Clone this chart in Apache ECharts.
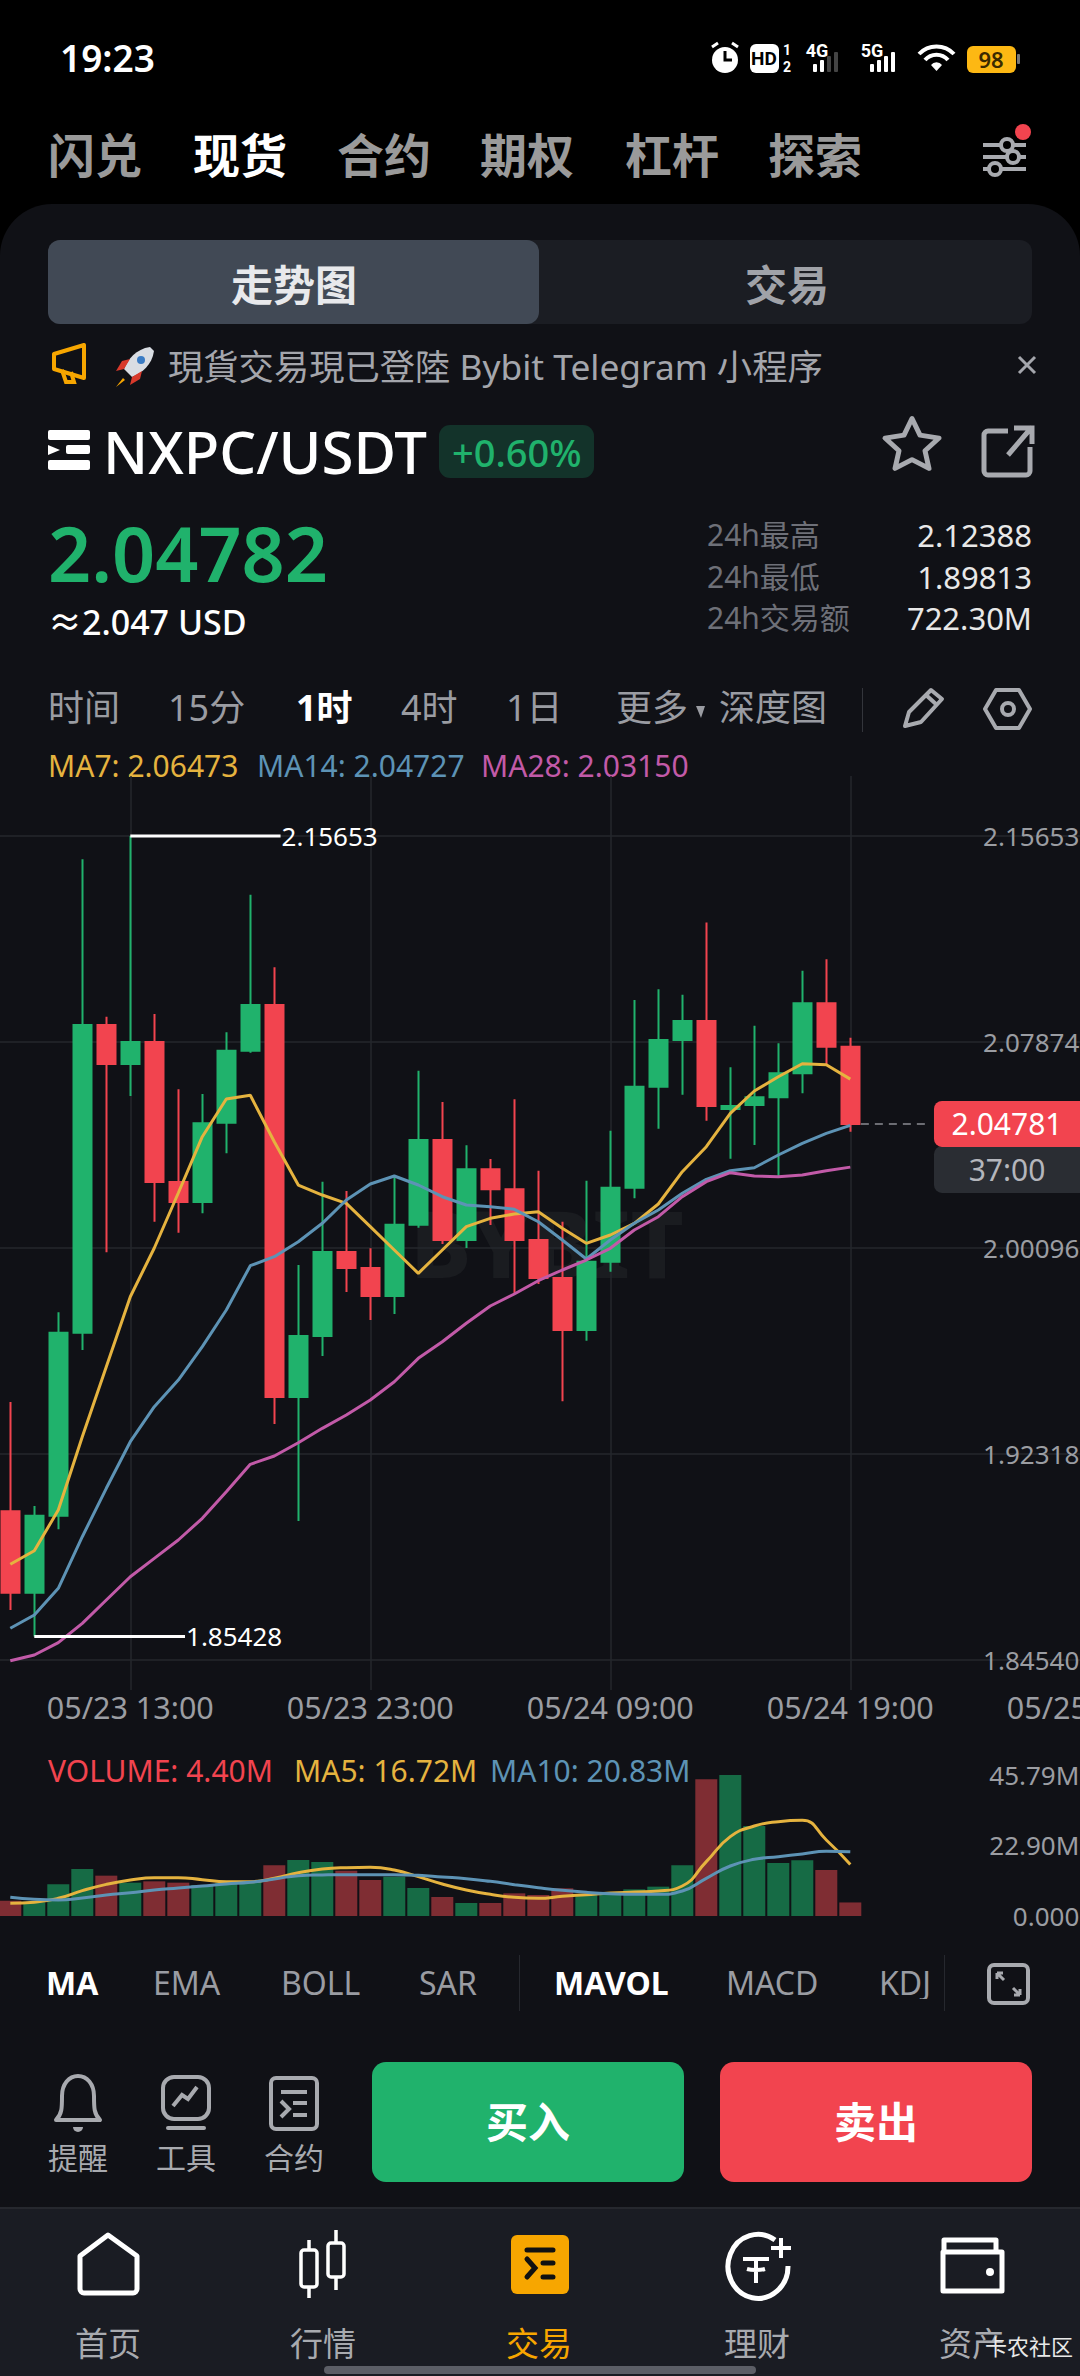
<!DOCTYPE html>
<html><head><meta charset="utf-8">
<script src="https://cdn.jsdelivr.net/npm/echarts@6/dist/echarts.min.js"></script>
<style>
html,body{margin:0;padding:0;background:#000;width:1080px;height:2376px;overflow:hidden}
body{position:relative;font-family:"Noto Sans","Noto Sans CJK SC",sans-serif}
.b{position:absolute}
.t{position:absolute;line-height:1;white-space:nowrap;transform:translateY(-50%)}
svg.i{position:absolute;overflow:visible}
#chart{position:absolute;left:0;top:0;width:1080px;height:2376px}
</style></head><body>
<div class="b" style="left:0;top:204px;width:1080px;height:2172px;background:#101116;border-radius:52px 52px 0 0"></div>
<div class="b" style="left:48px;top:240px;width:984px;height:84px;background:#1b1d23;border-radius:12px"></div>
<div class="b" style="left:48px;top:240px;width:491px;height:84px;background:#414955;border-radius:12px"></div>
<div class="b" style="left:439px;top:425px;width:155px;height:53px;background:#13332a;border-radius:11px"></div>
<div class="b" style="left:372px;top:2062px;width:312px;height:120px;background:#20b26c;border-radius:14px"></div>
<div class="b" style="left:720px;top:2062px;width:312px;height:120px;background:#f2444f;border-radius:14px"></div>
<div class="b" style="left:0;top:2207px;width:1080px;height:169px;background:#1a1c23;border-top:2px solid #26282e;box-sizing:border-box"></div>
<div class="b" style="left:324px;top:2366px;width:432px;height:8px;background:#5c5e66;border-radius:4px"></div>
<div class="b" style="left:862px;top:688px;width:1px;height:44px;background:#33353b"></div>
<div class="b" style="left:519px;top:1955px;width:1px;height:56px;background:#26282e"></div>
<div class="b" style="left:944px;top:1955px;width:1px;height:56px;background:#26282e"></div>

<!-- status icons -->
<svg class="i" style="left:0;top:0" width="1080" height="210">
 <circle cx="725" cy="60" r="13" fill="#fff"/><path d="M725 51v9h7" stroke="#000" stroke-width="3" fill="none"/>
 <path d="M712 47l6-4M738 47l-6-4" stroke="#fff" stroke-width="3"/>
 <rect x="750" y="44" width="29" height="29" rx="6" fill="#fff"/>
 <text x="764" y="65" font-size="19" font-weight="700" text-anchor="middle" fill="#000" font-family="Roboto">HD</text>
 <text x="787" y="55" font-size="14" font-weight="700" text-anchor="middle" fill="#fff" font-family="Roboto">1</text>
 <text x="787" y="72" font-size="14" font-weight="700" text-anchor="middle" fill="#fff" font-family="Roboto">2</text>
 <text x="817" y="57" font-size="18" font-weight="700" text-anchor="middle" fill="#fff" font-family="Roboto">4G</text>
 <g fill="#fff"><rect x="813" y="64" width="4" height="8" rx="1"/><rect x="820" y="60" width="4" height="12" rx="1"/></g>
 <g fill="#444"><rect x="827" y="56" width="4" height="16" rx="1"/><rect x="834" y="52" width="4" height="20" rx="1"/></g>
 <text x="872" y="57" font-size="18" font-weight="700" text-anchor="middle" fill="#fff" font-family="Roboto">5G</text>
 <g fill="#fff"><rect x="870" y="64" width="4" height="8" rx="1"/><rect x="877" y="60" width="4" height="12" rx="1"/><rect x="884" y="56" width="4" height="16" rx="1"/><rect x="891" y="52" width="4" height="20" rx="1"/></g>
 <g fill="none" stroke="#fff" stroke-width="4"><path d="M919 54a24 24 0 0 1 35 0"/><path d="M925 60a15 15 0 0 1 23 0"/></g><path d="M931 65a7 7 0 0 1 11 0l-5.500 6z" fill="#fff"/>
 <rect x="967" y="46" width="49" height="27" rx="6" fill="#fdb813"/><rect x="1017" y="54" width="3" height="10" rx="1" fill="#777"/>
 <text x="991" y="68" font-size="22" font-weight="600" text-anchor="middle" fill="#3a2a00" font-family="Noto Sans">98</text>
 <g stroke="#a8aaaf" stroke-width="4" fill="none"><path d="M983 145h18M1014 145h12M983 157h24M1020 157h6M983 169h6M1002 169h24"/></g>
 <g stroke="#a8aaaf" stroke-width="4" fill="none"><circle cx="1007" cy="145" r="6"/><circle cx="1013" cy="157" r="6"/><circle cx="995" cy="169" r="6"/></g>
 <circle cx="1023" cy="132" r="8" fill="#f2444f"/>
</svg>
<!-- notice + header icons -->
<svg class="i" style="left:0;top:0" width="1080" height="760">
 <path d="M53 354l30-9v33l-30-9z" fill="none" stroke="#f7a600" stroke-width="4" stroke-linejoin="round" transform="translate(1 0)"/>
 <path d="M62 370l4 12h8l-3-10" fill="none" stroke="#f7a600" stroke-width="4"/>
 <path d="M150 347c-14 2-22 12-26 22l8 8c10-4 20-12 22-26z" fill="#d9dde3"/><path d="M124 369l-8 2 6-10 8-2zM132 377l-2 8 10-6 2-8z" fill="#d8392b"/><path d="M123 378l-7 9 9-7z" fill="#f7a600"/><circle cx="141" cy="360" r="4" fill="#3b7cc4"/>
 <path d="M1019 357l16 16M1035 357l-16 16" stroke="#a4a6ac" stroke-width="3"/>
 <g fill="#fff"><rect x="48" y="430" width="42" height="10" rx="2"/><rect x="48" y="460" width="42" height="10" rx="2"/><rect x="66" y="445" width="24" height="9" rx="2"/><path d="M48 445l12 5-12 5z"/></g>
 <path d="M912 427l8 17 19 3-14 13 4 18-17-9-17 9 4-18-14-13 19-3z" fill="none" stroke="#a8aaaf" stroke-width="5" stroke-linejoin="round" transform="scale(1 .98)"/>
 <path d="M1008 431h-20a4 4 0 0 0-4 4v36a4 4 0 0 0 4 4h38a4 4 0 0 0 4-4v-24M1008 455l24-28M1014 428h18v16" fill="none" stroke="#a8aaaf" stroke-width="5"/>
 <path d="M696 706l9 0-4 12z" fill="#9a9ca2"/>
 <path d="M905 726l4-14 22-22 11 9-21 23z" fill="none" stroke="#a8aaaf" stroke-width="4" stroke-linejoin="round"/><path d="M926 695l11 10" stroke="#a8aaaf" stroke-width="4"/>
 <path d="M996 690h23l11 19-11 19h-23l-11-19z" fill="none" stroke="#a8aaaf" stroke-width="4" stroke-linejoin="round"/><circle cx="1008" cy="709" r="6" fill="none" stroke="#a8aaaf" stroke-width="4"/>
</svg>
<!-- bottom icons -->
<svg class="i" style="left:0;top:0" width="1080" height="2376">
 <rect x="989" y="1965" width="39" height="38" rx="5" fill="none" stroke="#a8aaaf" stroke-width="4"/>
 <path d="M997 1973l7 7M997 1973h6M997 1973v6M1020 1995l-7-7M1020 1995h-6M1020 1995v-6" stroke="#a8aaaf" stroke-width="3" fill="none"/>
 <path d="M56 2120c6-6 6-12 6-24 0-12 7-20 16-20s16 8 16 20c0 12 0 18 6 24z" fill="none" stroke="#a8aaaf" stroke-width="4" stroke-linejoin="round"/><path d="M73 2127a5 5 0 0 0 10 0" fill="#a8aaaf"/>
 <rect x="163" y="2077" width="46" height="42" rx="11" fill="none" stroke="#a8aaaf" stroke-width="4"/><path d="M173 2106l9-11 6 4 9-12" fill="none" stroke="#a8aaaf" stroke-width="4"/><path d="M168 2128h36" stroke="#a8aaaf" stroke-width="4" stroke-linecap="round"/>
 <rect x="271" y="2078" width="46" height="51" rx="5" fill="none" stroke="#a8aaaf" stroke-width="4"/><g stroke="#a8aaaf" stroke-width="4" fill="none"><path d="M281 2092h26M293 2103h14M293 2115h14M281 2101l8 8-8 8"/></g>
 <path d="M80 2256l28-21 29 21v33a4 4 0 0 1-4 4h-49a4 4 0 0 1-4-4z" fill="none" stroke="#fff" stroke-width="5" stroke-linejoin="round"/>
 <g fill="none" stroke="#fff" stroke-width="3.500"><rect x="301" y="2250" width="16" height="37" rx="3"/><rect x="328" y="2243" width="16" height="34" rx="3"/><path d="M309 2240v10M309 2287v11M336 2230v13M336 2277v13"/></g>
 <rect x="511" y="2235" width="58" height="59" rx="6" fill="#f7a600"/><g stroke="#111" stroke-width="5" fill="none" stroke-linecap="round"><path d="M527 2250h26M543 2263h10M543 2277h10M527 2259l8 9-8 9"/></g>
 <path d="M775 2240a30 32 0 1 0 13 26" fill="none" stroke="#fff" stroke-width="5"/><path d="M781 2238v20M771 2248h20" stroke="#fff" stroke-width="4"/><path d="M743 2259h26M756 2259v24M747 2269a12 3 0 0 0 18 0" stroke="#fff" stroke-width="4" fill="none"/>
 <path d="M944 2252v-12h52v12M943 2252h59v39h-59z" fill="none" stroke="#fff" stroke-width="5" stroke-linejoin="round"/><circle cx="990" cy="2272" r="4" fill="#fff"/>
</svg>
<div id="chrome"></div>
<div id="chart"></div>
<script>
// ---------- chart data ----------
const opens = [1.90154,1.87081,1.89988,1.96898,2.08517,2.07044,2.07874,2.02588,2.01833,2.04828,2.07546,2.09272,1.9447,1.96773,1.99945,1.99341,1.98284,2.00976,2.04174,2.00398,2.03068,2.02313,2.00398,1.98964,1.97,1.99579,2.02373,2.06187,2.0795,2.08668,2.05345,2.05496,2.05786,2.06693,2.09336,2.07697];
const closes = [1.87081,1.89988,1.96898,2.08517,2.07044,2.07874,2.02588,2.01833,2.04805,2.07546,2.09272,1.9447,1.96773,1.99945,1.99341,1.98284,2.00976,2.04174,2.00398,2.03068,2.02313,2.00398,1.98964,1.97,1.99579,2.02373,2.06187,2.0795,2.08668,2.05458,2.05458,2.05786,2.06693,2.09336,2.07697,2.04781];
const lows = [1.86428,1.85428,1.89475,1.96245,1.99934,2.05836,2.01089,2.00674,2.01407,2.03672,2.07471,1.93451,1.89788,1.96018,1.98435,1.97378,1.97604,2.00863,2.00247,2.00096,2.00965,1.98397,1.98737,1.94308,1.96596,1.99201,2.01973,2.04601,2.05885,2.04903,2.03468,2.03985,2.02766,2.05937,2.07006,2.04488];
const highs = [1.94281,1.90354,1.97668,2.14773,2.0883,2.15653,2.08932,2.06089,2.05911,2.08241,2.13437,2.10695,1.99454,2.026,2.02249,2.00085,2.02788,2.06791,2.05609,2.03974,2.03457,2.05711,2.03015,2.01089,2.02637,2.04525,2.09461,2.09865,2.09661,2.12388,2.06919,2.0849,2.07826,2.10567,2.10997,2.08037];
const ma7 = [1.88153,1.88667,1.90203,1.92971,1.95614,1.98257,2.00096,2.02173,2.04299,2.05722,2.05862,2.0411,2.02475,2.02097,2.01784,2.00901,2.00021,1.99141,2.00021,2.00901,2.01218,2.0138,2.01467,2.0084,2.00274,2.00587,2.01029,2.01758,2.02977,2.03921,2.05182,2.06024,2.06564,2.07055,2.07018,2.06473];
const ma14 = [1.85737,1.86239,1.87247,1.89195,1.91023,1.92782,1.94104,1.95112,1.9637,1.97755,1.99428,1.99768,2.00334,2.01029,2.01909,2.02513,2.02815,2.02475,2.02033,2.0172,2.01656,2.01558,2.01089,2.00398,1.99681,2.00398,2.01029,2.01531,2.02162,2.0269,2.03015,2.03128,2.03608,2.0405,2.04427,2.04727];
const ma28 = [1.84513,1.84728,1.85193,1.85925,1.86805,1.87685,1.88379,1.89071,1.8989,1.90894,1.91929,1.92242,1.92745,1.93288,1.93791,1.94357,1.95048,1.95931,1.96558,1.97253,1.97906,1.98359,1.98862,1.99266,1.99643,2.00085,2.00776,2.01278,2.02033,2.026,2.0294,2.02815,2.02789,2.02853,2.03015,2.0315];
const volumes = [4.98,4.44,10.28,15.26,13.1,10.83,11.26,10.83,10.07,10.83,11.15,16.46,18.19,17.54,14.72,11.69,12.77,9.09,6.17,4.22,4.22,7.36,6.82,8.99,7.15,7.58,8.66,9.53,16.46,44.39,45.79,29.23,17.21,18.08,14.94,4.4];
const volMa5 = [4.11,4.44,5.74,8.23,10.28,11.69,12.45,12.45,11.8,11.15,11.15,12.23,14.07,15.26,15.7,15.81,14.94,12.77,10.39,8.44,7.04,6.06,5.74,6.39,6.93,7.47,7.79,8.12,9.74,17.65,25.77,29.23,30.64,31.07,24.68,16.72];
const volMa10 = [6.06,5.41,5.2,5.85,6.82,7.58,8.44,9.09,9.74,10.39,10.93,12.02,13.1,13.32,13.42,13.42,13.42,13.21,12.67,12.13,11.26,10.18,9.2,8.34,7.69,7.25,7.04,7.04,8.12,12.23,16.24,18.4,19.27,20.14,21,20.83];
const priceTicks = [1.8454,1.92318,2.00096,2.07874,2.15653];
const volumeTicks = [0,22.9,45.79];
const timeTickIndex = [5,15,25,35,45];
const timeTickLabels = ['05/23 13:00','05/23 23:00','05/24 09:00','05/24 19:00','05/25 05:00'];
const maxPoint = {index:5, price:2.15653, labelAt:11.26};
const minPoint = {index:1, price:1.85428, labelAt:7.28};
const lastPrice = 2.04781;
const countdown = '37:00';
const countdownLevel = 2.03061;

// ---------- palette ----------
const UP='#20b26c', DOWN='#f2444f', UPV='#166b45', DOWNV='#7f2d33', YEL='#e5b33f', BLU='#5d93b5', PUR='#c25aa8', GRID='#25272c', AX='#9b9da2';
const FONT='"Noto Sans","Noto Sans CJK SC",sans-serif';

// ---------- page text around the chart ----------
const uiText = [
 ['19:23',60,57,37,'#fff',600],
 ['闪兑',48,155,47,'#9a9a9a',700],['现货',193,155,47,'#fff',700],['合约',337,155,47,'#9a9a9a',700],['期权',480,155,47,'#9a9a9a',700],['杠杆',625,155,47,'#9a9a9a',700],['探索',768,155,47,'#9a9a9a',700],
 ['走势图',231,285,42,'#e8e9ec',700],['交易',745,285,42,'#a0a2a8',700],
 ['現貨交易現已登陸 Bybit Telegram 小程序',168,367,35.3,'#a4a6ac',400],
 ['NXPC/USDT',103,452,58.2,'#fff',500],['+0.60%',452,452,38,UP,500],
 ['2.04782',48,553,75.5,UP,600],['≈2.047 USD',48,622,34,'#fff',500],
 ['24h最高',707,535,30,'#6e7078',400],['24h最低',707,577,30,'#6e7078',400],['24h交易额',707,618,30,'#6e7078',400],
 ['时间',48,708,36,'#9a9ca2',400],['15分',168,708,36,'#9a9ca2',400],['1时',296,708,36,'#fff',700],['4时',401,708,36,'#9a9ca2',400],['1日',506,708,36,'#9a9ca2',400],['更多',616,708,36,'#9a9ca2',400],['深度图',719,708,36,'#9a9ca2',400],
 ['MA',46,1983,32,'#fff',700],['EMA',153,1983,32,'#9a9ca2',400],['BOLL',281,1983,32,'#9a9ca2',400],['SAR',419,1983,32,'#9a9ca2',400],['MAVOL',554,1983,32,'#fff',700],['MACD',726,1983,32,'#9a9ca2',400],
 ['提醒',48,2158,30,'#a8aaaf',400],['工具',156,2158,30,'#a8aaaf',400],['合约',264,2158,30,'#a8aaaf',400],
 ['买入',486,2122,42,'#fff',700],['卖出',834,2122,42,'#fff',700],
 ['首页',75,2343,33,'#a8aaaf',400],['行情',290,2343,33,'#a8aaaf',400],['交易',506,2343,33,'#f7a600',400],['理财',724,2343,33,'#a8aaaf',400],['资产',939,2343,33,'#a8aaaf',400],
 ['卡农社区',985,2346,22,'#e8e8e8',400]
];
const uiRight = [['2.12388',1032,535,31,'#e8e8e8'],['1.89813',1032,577,31,'#e8e8e8'],['722.30M',1032,618,31,'#e8e8e8']];
const chrome=document.getElementById('chrome');
function put(txt,side,x,y,s,c,w){const d=document.createElement('div');d.className='t';d.textContent=txt;
 d.style.cssText+=`${side}:${x}px;top:${y}px;font-size:${s}px;color:${c};font-weight:${w||400}`;chrome.appendChild(d);return d;}
uiText.forEach(r=>put(r[0],'left',r[1],r[2],r[3],r[4],r[5]));
uiRight.forEach(r=>put(r[0],'right',1080-r[1],r[2],r[3],r[4]));
const kd=put('KDJ','left',879,1983,32,'#9a9ca2');kd.style.width='50px';kd.style.overflow='hidden';

// ---------- chart ----------
const N=46, BAND=24, GRID_LEFT=-1.7;
const categories=Array.from({length:N},(_,i)=>{const p=timeTickIndex.indexOf(i);return p<0?String(i):timeTickLabels[p];});
const candle=opens.map((o,i)=>[o,closes[i],lows[i],highs[i]]);
const TAG='path://M8,0H160V46H8A8,8,0,0,1,0,38V8A8,8,0,0,1,8,0Z';
const lineS=(name,data,color,xi,yi,w,smooth)=>({name,type:'line',data,xAxisIndex:xi,yAxisIndex:yi,symbol:'none',smooth:!!smooth,lineStyle:{color,width:w},z:3,silent:true});
const annot=(p)=>({type:'line',xAxisIndex:1,yAxisIndex:0,symbol:'none',data:[[p.index,p.price],[p.labelAt,p.price]],lineStyle:{color:'#fff',width:3},z:5,silent:true,
 endLabel:{show:true,distance:1,color:'#fff',fontSize:26,fontFamily:FONT,formatter:()=>p.price.toFixed(5)}});
const gridW=BAND*N;
const txt=(t,x,y,c,s)=>({type:'text',x,y,silent:true,style:{text:t,fill:c,font:`${s} ${FONT}`,verticalAlign:'middle'}});
const chart=echarts.init(document.getElementById('chart'),null,{renderer:'svg',width:1080,height:2376});
chart.setOption({
 animation:false,backgroundColor:'transparent',
 grid:[{left:GRID_LEFT,top:776,width:gridW,height:914,outerBoundsMode:'none'},{left:GRID_LEFT,top:1775,width:gridW,height:141,outerBoundsMode:'none'}],
 xAxis:[
  {type:'category',gridIndex:0,data:categories,boundaryGap:true,axisLine:{show:false},axisTick:{show:false},splitLine:{show:false},
   axisLabel:{interval:(i)=>timeTickIndex.includes(i),color:AX,fontSize:30.5,fontFamily:FONT,margin:2,hideOverlap:false}},
  {type:'value',gridIndex:0,min:-0.5,max:N-0.5,position:'top',axisLine:{show:false},axisLabel:{show:false},
   axisTick:{show:false,customValues:timeTickIndex},splitLine:{show:true,lineStyle:{color:GRID,width:1.5}}},
  {type:'category',gridIndex:1,data:categories,boundaryGap:true,axisLine:{show:false},axisTick:{show:false},axisLabel:{show:false},splitLine:{show:false}}
 ],
 yAxis:[
  {type:'value',gridIndex:0,position:'right',min:1.83407,max:2.17919,axisLine:{show:false},
   axisTick:{show:false,customValues:priceTicks},
   axisLabel:{inside:true,margin:23,color:AX,fontSize:26,fontFamily:FONT,customValues:priceTicks,formatter:v=>v.toFixed(5)},
   splitLine:{show:true,lineStyle:{color:GRID,width:1.5}}},
  {type:'value',gridIndex:1,position:'right',min:0,max:45.79,axisLine:{show:false},
   axisTick:{show:false,customValues:volumeTicks},splitLine:{show:false},
   axisLabel:{inside:true,margin:23,color:AX,fontSize:26,fontFamily:FONT,customValues:volumeTicks,formatter:v=>v===0?'0.000':v.toFixed(2)+'M'}}
 ],
 graphic:[
  {type:'text',x:410,y:1242,z:0,silent:true,style:{text:'BYBIT',fill:'#1a1c20',font:`800 92px ${FONT}`,verticalAlign:'middle'}},
  txt('MA7: 2.06473',48,765,YEL,'30px'),txt('MA14: 2.04727',257,765,BLU,'30px'),txt('MA28: 2.03150',481,765,PUR,'30px'),
  txt('VOLUME: 4.40M',48,1770,DOWN,'30px'),txt('MA5: 16.72M',294,1770,YEL,'30px'),txt('MA10: 20.83M',490,1770,BLU,'30px')
 ],
 series:[
  {type:'candlestick',xAxisIndex:0,yAxisIndex:0,data:candle,barWidth:19,silent:true,z:2,
   itemStyle:{color:UP,color0:DOWN,borderColor:UP,borderColor0:DOWN,borderWidth:2}},
  lineS('MA7',ma7,YEL,0,0,3),lineS('MA14',ma14,BLU,0,0,3),lineS('MA28',ma28,PUR,0,0,3),
  annot(maxPoint),annot(minPoint),
  {type:'line',xAxisIndex:1,yAxisIndex:0,symbol:'none',data:[[35.44,lastPrice],[38.28,lastPrice]],lineStyle:{color:'#8a8c92',width:1.5,type:[8,6]},z:3,silent:true},
  {type:'scatter',xAxisIndex:1,yAxisIndex:0,data:[[41.82,countdownLevel]],symbol:TAG,symbolKeepAspect:false,symbolSize:[160,47],itemStyle:{color:'#2a2d33',opacity:1},z:6,silent:true,
   label:{show:true,position:'inside',offset:[-7,0],formatter:countdown,color:'#b4b6bc',fontSize:30,fontFamily:FONT}},
  {type:'scatter',xAxisIndex:1,yAxisIndex:0,data:[[41.82,lastPrice]],symbol:TAG,symbolKeepAspect:false,symbolSize:[160,46],itemStyle:{color:DOWN,opacity:1},z:7,silent:true,
   label:{show:true,position:'inside',offset:[-7,0],formatter:lastPrice.toFixed(5),color:'#fff',fontSize:30,fontFamily:FONT}},
  {type:'bar',xAxisIndex:2,yAxisIndex:1,barWidth:22,silent:true,z:2,
   data:volumes.map((v,i)=>({value:v,itemStyle:{color:closes[i]>=opens[i]?UPV:DOWNV}}))},
  lineS('VOL MA5',volMa5,YEL,2,1,3,true),lineS('VOL MA10',volMa10,BLU,2,1,3,true)
 ]
});
</script></body></html>
